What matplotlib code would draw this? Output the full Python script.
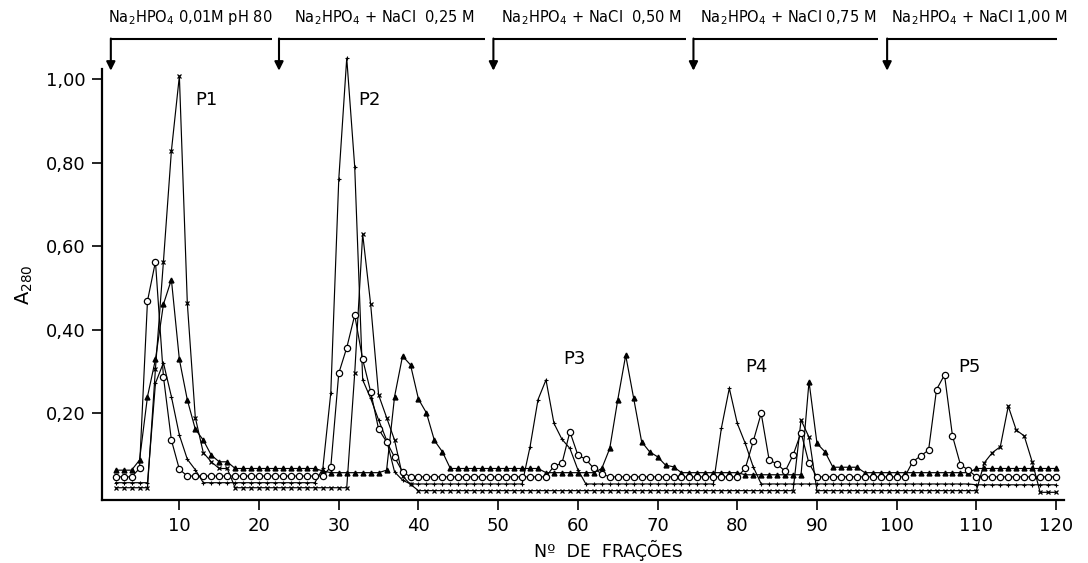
import matplotlib
matplotlib.use("Agg")
import matplotlib.pyplot as plt

plt.rcParams['font.family'] = ['DejaVu Sans']
plt.rcParams['mathtext.fontset'] = 'dejavusans'

# ---------------- data ----------------
fractions = list(range(2, 121))

triangles = [0.064, 0.064, 0.064, 0.088, 0.24, 0.329, 0.461, 0.52, 0.329, 0.232,
             0.162, 0.136, 0.10, 0.084, 0.084,
             0.068, 0.068, 0.068, 0.068, 0.068, 0.068, 0.068, 0.068, 0.068, 0.068, 0.068,
             0.062,
             0.058, 0.058, 0.058, 0.058, 0.058, 0.058, 0.058,
             0.064, 0.24, 0.337, 0.316, 0.234, 0.201, 0.135, 0.108,
             0.068, 0.068, 0.068, 0.068, 0.068, 0.068, 0.068, 0.068, 0.068, 0.068, 0.068, 0.068,
             0.058, 0.058, 0.058, 0.058, 0.058, 0.058, 0.058,
             0.068, 0.116, 0.232, 0.339, 0.236, 0.132, 0.108, 0.096, 0.076, 0.072,
             0.058, 0.058, 0.058, 0.058, 0.058, 0.058, 0.058, 0.058,
             0.053, 0.053, 0.053, 0.053, 0.053, 0.053, 0.053, 0.053,
             0.276, 0.128, 0.108,
             0.071, 0.071, 0.071, 0.071,
             0.058, 0.058, 0.058, 0.058, 0.058, 0.058, 0.058, 0.058, 0.058, 0.058, 0.058, 0.058, 0.058, 0.058,
             0.068, 0.068, 0.068, 0.068, 0.068, 0.068, 0.068, 0.068, 0.068, 0.068, 0.068]

circles = [0.048, 0.048, 0.048, 0.068, 0.469, 0.563, 0.288, 0.136, 0.066,
           0.05, 0.05, 0.05, 0.05, 0.05, 0.05, 0.05, 0.05, 0.05, 0.05, 0.05, 0.05, 0.05, 0.05, 0.05,
           0.05, 0.05, 0.05,
           0.072, 0.296, 0.357, 0.435, 0.329, 0.252, 0.162, 0.132, 0.095, 0.06,
           0.048, 0.048, 0.048, 0.048, 0.048, 0.048, 0.048, 0.048, 0.048, 0.048, 0.048, 0.048,
           0.048, 0.048, 0.048, 0.048, 0.048, 0.048,
           0.074, 0.08, 0.156, 0.10, 0.09, 0.068, 0.055,
           0.048, 0.048, 0.048, 0.048, 0.048, 0.048, 0.048, 0.048, 0.048, 0.048, 0.048, 0.048,
           0.048, 0.048, 0.048, 0.048, 0.048,
           0.068, 0.133, 0.2, 0.088, 0.079, 0.061, 0.10, 0.154, 0.08,
           0.048, 0.048, 0.048, 0.048, 0.048, 0.048, 0.048, 0.048, 0.048, 0.048, 0.048, 0.048,
           0.084, 0.098, 0.112, 0.257, 0.292, 0.146, 0.077, 0.064,
           0.048, 0.048, 0.048, 0.048, 0.048, 0.048, 0.048, 0.048, 0.048, 0.048, 0.048]

dots = [0.034, 0.034, 0.034, 0.034, 0.034, 0.272, 0.321, 0.24, 0.148, 0.09, 0.065,
        0.034, 0.034, 0.034, 0.034, 0.034, 0.034, 0.034, 0.034, 0.034, 0.034, 0.034, 0.034,
        0.034, 0.034, 0.034,
        0.068, 0.249, 0.76, 1.05, 0.79, 0.28, 0.236, 0.184, 0.136, 0.06, 0.04,
        0.031, 0.031, 0.031, 0.031, 0.031, 0.031, 0.031, 0.031, 0.031, 0.031, 0.031, 0.031,
        0.031, 0.031, 0.031,
        0.12, 0.233, 0.28, 0.176, 0.138, 0.116, 0.065,
        0.031, 0.031, 0.031, 0.031, 0.031, 0.031, 0.031, 0.031, 0.031, 0.031, 0.031, 0.031,
        0.031, 0.031, 0.031, 0.031, 0.031,
        0.164, 0.26, 0.176, 0.128, 0.072,
        0.031, 0.031, 0.031, 0.031, 0.031, 0.031, 0.031, 0.031, 0.031, 0.031, 0.031, 0.031,
        0.031, 0.031, 0.031, 0.031, 0.031, 0.031, 0.031, 0.031, 0.031, 0.031, 0.031, 0.031,
        0.031, 0.031, 0.031, 0.029, 0.029, 0.029, 0.029, 0.029, 0.029, 0.029, 0.029, 0.029,
        0.029, 0.029]

crosses = [0.022, 0.022, 0.022, 0.022, 0.022, 0.307, 0.563, 0.828, 1.007, 0.463,
           0.19, 0.106, 0.084, 0.068, 0.068,
           0.022, 0.022, 0.022, 0.022, 0.022, 0.022, 0.022, 0.022, 0.022, 0.022, 0.022, 0.022,
           0.022, 0.022, 0.022,
           0.296, 0.629, 0.461, 0.244, 0.19, 0.136, 0.05, 0.03,
           0.015, 0.015, 0.015, 0.015, 0.015, 0.015, 0.015, 0.015, 0.015, 0.015, 0.015, 0.015,
           0.015, 0.015, 0.015, 0.015, 0.015, 0.015, 0.015, 0.015, 0.015, 0.015, 0.015, 0.015,
           0.015, 0.015, 0.015, 0.015, 0.015, 0.015, 0.015, 0.015, 0.015, 0.015, 0.015, 0.015,
           0.015, 0.015, 0.015, 0.015, 0.015, 0.015, 0.015, 0.015, 0.015, 0.015, 0.015, 0.015,
           0.184, 0.143,
           0.015, 0.015, 0.015, 0.015, 0.015, 0.015, 0.015, 0.015, 0.015, 0.015, 0.015, 0.015,
           0.015, 0.015, 0.015, 0.015, 0.015, 0.015, 0.015, 0.015, 0.015,
           0.082, 0.106, 0.12, 0.217, 0.16, 0.146, 0.084,
           0.011, 0.011, 0.011]

x_ticks = [10, 20, 30, 40, 50, 60, 70, 80, 90, 100, 110, 120]
y_ticks = [0.20, 0.40, 0.60, 0.80, 1.00]
y_tick_labels = ["0,20", "0,40", "0,60", "0,80", "1,00"]

buffer_starts = [1.4, 22.5, 49.4, 74.5, 98.8]
buffer_ends = [21.6, 48.4, 73.6, 97.6, 120.1]
buffer_label_x = [1.1, 24.4, 50.3, 75.3, 99.3]
buffer_labels = [r"Na$_2$HPO$_4$ 0,01M pH 80",
                 r"Na$_2$HPO$_4$ + NaCl  0,25 M",
                 r"Na$_2$HPO$_4$ + NaCl  0,50 M",
                 r"Na$_2$HPO$_4$ + NaCl 0,75 M",
                 r"Na$_2$HPO$_4$ + NaCl 1,00 M"]

peak_names = ["P1", "P2", "P3", "P4", "P5"]
peak_x = [12.0, 32.4, 58.2, 81.0, 107.7]
peak_y = [0.95, 0.95, 0.33, 0.31, 0.31]

# ---------------- figure ----------------
fig = plt.figure(figsize=(10.88, 5.63), dpi=100)
ax = fig.add_axes([0.0938, 0.1119, 0.8842, 0.7655])

lw = 0.85
ax.plot(fractions, triangles, color='k', lw=lw, marker='^', ms=3.5, mfc='k', mec='k', clip_on=False)
ax.plot(fractions, dots, color='k', lw=lw, marker='+', ms=3.5, mew=0.8, clip_on=False)
ax.plot(fractions, crosses, color='k', lw=lw, marker='x', ms=3.5, mew=0.9, clip_on=False)
ax.plot(fractions, circles, color='k', lw=lw, marker='o', ms=4.5, mfc='white', mec='k', mew=0.9,
        clip_on=False)

ax.set_xlim(0.3, 121)
ax.set_ylim(-0.0074, 1.024)

for s in ['top', 'right']:
    ax.spines[s].set_visible(False)
for s in ['left', 'bottom']:
    ax.spines[s].set_linewidth(1.6)

ax.set_xticks(x_ticks)
ax.set_xticklabels([str(t) for t in x_ticks])
ax.set_yticks(y_ticks)
ax.set_yticklabels(y_tick_labels)
ax.tick_params(axis='both', direction='out', length=7, width=1.2, labelsize=13, pad=5)

ax.set_ylabel(r"A$_{280}$", fontsize=14)
ax.yaxis.set_label_coords(-0.07, 0.50)
ax.set_xlabel("Nº  DE  FRAÇÕES", fontsize=12.5)
ax.xaxis.set_label_coords(0.526, -0.116)
ax.xaxis.label.set_va('center')

# buffer step annotations
line_y = 1.095
tip_y = 1.02
for xs, xe in zip(buffer_starts, buffer_ends):
    ax.plot([xs, xe], [line_y, line_y], color='k', lw=1.5, clip_on=False, solid_capstyle='butt')
    ax.annotate('', xy=(xs, tip_y), xytext=(xs, line_y + 0.002),
                arrowprops=dict(arrowstyle='-|>', color='k', lw=1.5, mutation_scale=13,
                                shrinkA=0, shrinkB=0),
                annotation_clip=False)
for lx, lab in zip(buffer_label_x, buffer_labels):
    ax.text(lx, 1.148, lab, ha='left', va='center', fontsize=10.5, clip_on=False)

for name, px, py in zip(peak_names, peak_x, peak_y):
    ax.text(px, py, name, ha='left', va='center', fontsize=13)

fig.savefig("out.png", dpi=100)
